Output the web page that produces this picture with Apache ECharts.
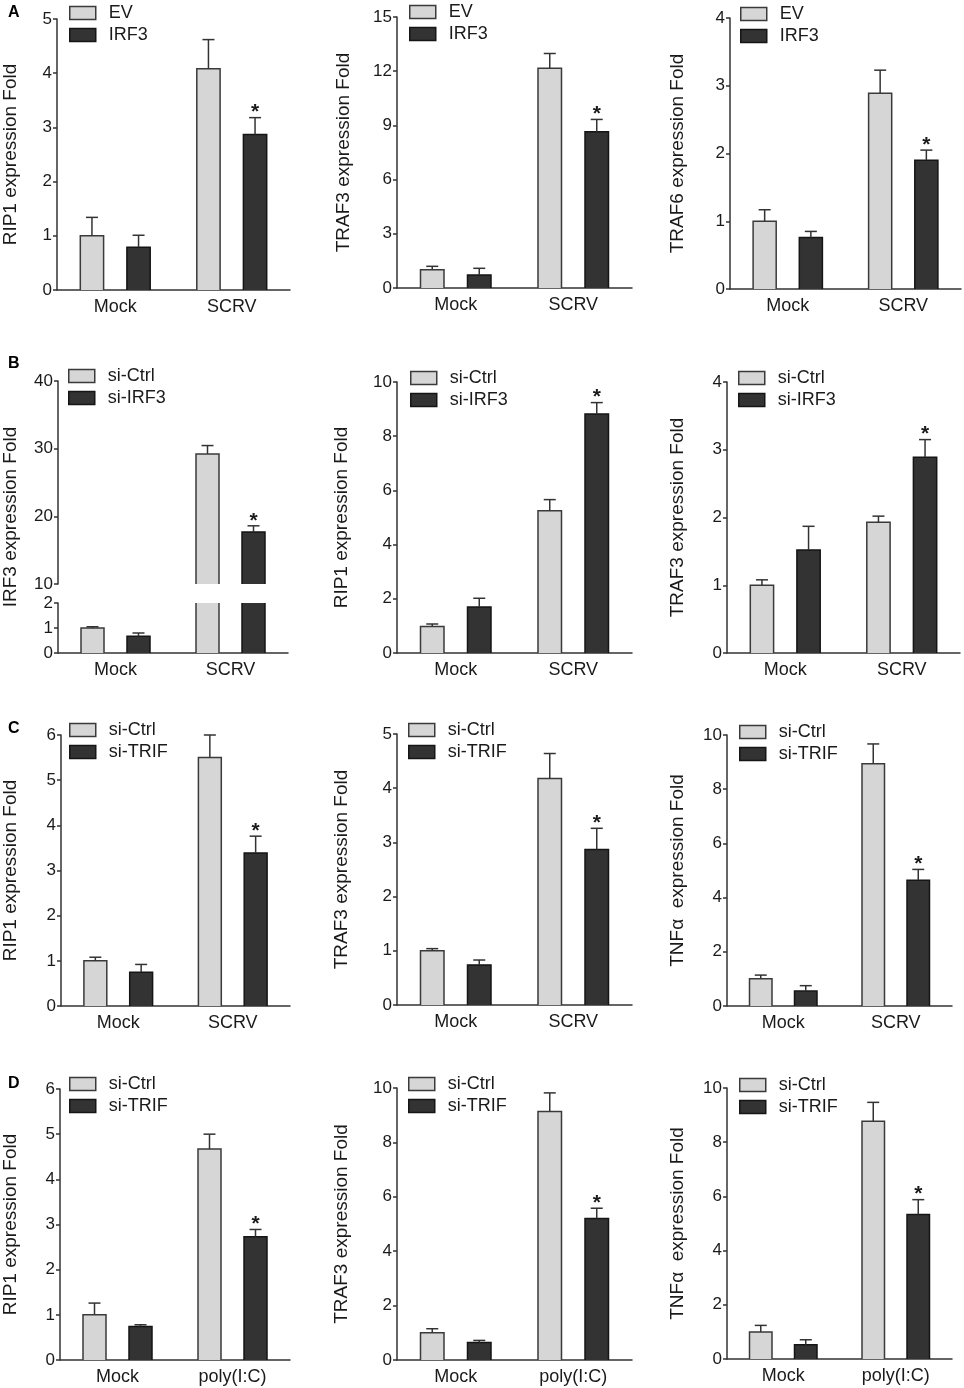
<!DOCTYPE html>
<html>
<head>
<meta charset="utf-8"/>
<script src="https://cdn.jsdelivr.net/npm/echarts@6/dist/echarts.min.js"></script>
<style>
  html, body { margin: 0; padding: 0; background: #fff; }
  #fig { width: 964px; height: 1388px; }
</style>
</head>
<body>
<div id="fig"></div>
<script type="text/javascript">
// categories
var CATS_SCRV = ['Mock', 'SCRV'];
var CATS_PIC = ['Mock', 'poly(I:C)'];

// means / error (upper SEM) : rows = [control, treatment], cols = [Mock, infected]
var A1_MEAN = [[1.00, 4.08], [0.79, 2.87]];
var A1_ERR  = [[0.34, 0.54], [0.22, 0.31]];
var A2_MEAN = [[1.01, 12.17], [0.72, 8.65]];
var A2_ERR  = [[0.19, 0.81], [0.37, 0.68]];
var A3_MEAN = [[1.00, 2.89], [0.76, 1.90]];
var A3_ERR  = [[0.17, 0.34], [0.09, 0.15]];

var B1_MEAN = [[1.00, 29.23], [0.67, 17.67]];
var B1_ERR  = [[0.05, 1.23], [0.13, 0.93]];
var B2_MEAN = [[0.98, 5.25], [1.70, 8.82]];
var B2_ERR  = [[0.09, 0.41], [0.32, 0.42]];
var B3_MEAN = [[1.00, 1.93], [1.52, 2.89]];
var B3_ERR  = [[0.08, 0.09], [0.35, 0.26]];

var C1_MEAN = [[1.00, 5.50], [0.75, 3.39]];
var C1_ERR  = [[0.08, 0.50], [0.17, 0.37]];
var C2_MEAN = [[1.00, 4.18], [0.74, 2.87]];
var C2_ERR  = [[0.04, 0.46], [0.09, 0.39]];
var C3_MEAN = [[1.01, 8.94], [0.55, 4.64]];
var C3_ERR  = [[0.13, 0.73], [0.20, 0.40]];

var D1_MEAN = [[1.00, 4.67], [0.74, 2.73]];
var D1_ERR  = [[0.26, 0.33], [0.04, 0.16]];
var D2_MEAN = [[1.00, 9.14], [0.64, 5.20]];
var D2_ERR  = [[0.15, 0.68], [0.08, 0.38]];
var D3_MEAN = [[1.00, 8.77], [0.53, 5.33]];
var D3_ERR  = [[0.24, 0.70], [0.18, 0.55]];

// significance marks (same layout in every panel)
var SIG = [[false, false], [false, true]];

var FONT = "'Liberation Sans', Arial, Helvetica, sans-serif";
var LIGHT = '#d6d6d6';
var DARK = '#333333';
var INK = '#1a1a1a';
var AXIS = '#333333';

var panels = [
    {cats: CATS_SCRV, names: ['EV', 'IRF3'], mean: A1_MEAN, err: A1_ERR, ymax: 5, step: 1,
     title: 'RIP1 expression Fold', box: [55, 19, 235, 271], gap: 37, leg: [69, 4]},
    {cats: CATS_SCRV, names: ['EV', 'IRF3'], mean: A2_MEAN, err: A2_ERR, ymax: 15, step: 3,
     title: 'TRAF3 expression Fold', box: [397, 17, 235, 271], gap: 44, leg: [409, 3]},
    {cats: CATS_SCRV, names: ['EV', 'IRF3'], mean: A3_MEAN, err: A3_ERR, ymax: 4, step: 1,
     title: 'TRAF6 expression Fold', box: [730, 18, 231, 271], gap: 43, leg: [740, 5]},

    {cats: CATS_SCRV, names: ['si-Ctrl', 'si-IRF3'], mean: B1_MEAN, err: B1_ERR, broken: true,
     title: 'IRF3 expression Fold', box: [58, 381, 230, 272], gap: 40, leg: [68, 367]},
    {cats: CATS_SCRV, names: ['si-Ctrl', 'si-IRF3'], mean: B2_MEAN, err: B2_ERR, ymax: 10, step: 2,
     title: 'RIP1 expression Fold', box: [397, 382, 235, 271], gap: 46, leg: [410, 369]},
    {cats: CATS_SCRV, names: ['si-Ctrl', 'si-IRF3'], mean: B3_MEAN, err: B3_ERR, ymax: 4, step: 1,
     title: 'TRAF3 expression Fold', box: [727, 382, 233, 271], gap: 40, leg: [738, 369]},

    {cats: CATS_SCRV, names: ['si-Ctrl', 'si-TRIF'], mean: C1_MEAN, err: C1_ERR, ymax: 6, step: 1,
     title: 'RIP1 expression Fold', box: [59, 735, 231, 271], gap: 41, leg: [69, 721]},
    {cats: CATS_SCRV, names: ['si-Ctrl', 'si-TRIF'], mean: C2_MEAN, err: C2_ERR, ymax: 5, step: 1,
     title: 'TRAF3 expression Fold', box: [397, 734, 235, 271], gap: 46, leg: [408, 721]},
    {cats: CATS_SCRV, names: ['si-Ctrl', 'si-TRIF'], mean: C3_MEAN, err: C3_ERR, ymax: 10, step: 2,
     title: 'TNF\u03b1  expression Fold', box: [727, 735, 225, 271], gap: 40, leg: [739, 723]},

    {cats: CATS_PIC, names: ['si-Ctrl', 'si-TRIF'], mean: D1_MEAN, err: D1_ERR, ymax: 6, step: 1,
     title: 'RIP1 expression Fold', box: [58, 1089, 232, 271], gap: 40, leg: [69, 1075]},
    {cats: CATS_PIC, names: ['si-Ctrl', 'si-TRIF'], mean: D2_MEAN, err: D2_ERR, ymax: 10, step: 2,
     title: 'TRAF3 expression Fold', box: [397, 1088, 235, 272], gap: 46, leg: [408, 1075]},
    {cats: CATS_PIC, names: ['si-Ctrl', 'si-TRIF'], mean: D3_MEAN, err: D3_ERR, ymax: 10, step: 2,
     title: 'TNF\u03b1  expression Fold', box: [727, 1088, 225, 271], gap: 40, leg: [739, 1076]}
];

var letters = [['A', 8, 5], ['B', 8, 356], ['C', 8, 721], ['D', 8, 1076]];

var option = {
    animation: false,
    backgroundColor: '#fff',
    textStyle: {fontFamily: FONT},
    grid: [], xAxis: [], yAxis: [], series: [], legend: [], graphic: []
};

var lineStyle = {color: AXIS, width: 1.5};

// bars + error bars + star, drawn on the axis scales
function barSeries(p, gi, s, ymin, ymax) {
    return {
        type: 'custom',
        name: p.names[s],
        xAxisIndex: gi,
        yAxisIndex: gi,
        clip: false,
        encode: {x: 0, y: 1},
        data: p.cats.map(function (c, i) { return [i, p.mean[s][i], p.err[s][i], SIG[s][i] ? 1 : 0]; }),
        renderItem: function (params, api) {
            var ci = api.value(0), v = api.value(1), e = api.value(2), star = api.value(3);
            if (v <= ymin) return {type: 'group', children: []};
            var band = api.size([1, 0])[0];
            var w = band * 0.2;
            var cx = api.coord([ci, 0])[0] + (s === 0 ? -w : w);
            var l = cx - w / 2, r = cx + w / 2;
            var base = api.coord([ci, Math.max(ymin, 0)])[1];
            var clipped = v > ymax;
            var yTop = api.coord([ci, Math.min(v, ymax)])[1];
            var fill = s === 0 ? LIGHT : DARK;
            var edge = s === 0 ? '#3a3a3a' : '#151515';
            var kids = [{
                type: 'rect',
                shape: {x: l, y: yTop, width: w, height: base - yTop},
                style: {fill: fill}
            }];
            if (clipped) {
                kids.push({type: 'line', shape: {x1: l, y1: yTop, x2: l, y2: base}, style: {stroke: edge, lineWidth: 1.5}});
                kids.push({type: 'line', shape: {x1: r, y1: yTop, x2: r, y2: base}, style: {stroke: edge, lineWidth: 1.5}});
            } else {
                kids.push({type: 'polyline', shape: {points: [[l, base], [l, yTop], [r, yTop], [r, base]]},
                    style: {stroke: edge, lineWidth: 1.5, fill: null}});
                var yE = api.coord([ci, v + e])[1];
                kids.push({type: 'line', shape: {x1: cx, y1: yTop, x2: cx, y2: yE}, style: {stroke: AXIS, lineWidth: 1.5}});
                kids.push({type: 'line', shape: {x1: cx - 6, y1: yE, x2: cx + 6, y2: yE}, style: {stroke: AXIS, lineWidth: 1.5}});
                if (star) {
                    kids.push({type: 'text', x: cx, y: yE - 5,
                        style: {text: '*', fill: INK, font: 'bold 21px ' + FONT, align: 'center', verticalAlign: 'middle'}});
                }
            }
            return {type: 'group', children: kids};
        }
    };
}

function addAxes(b, cats, xShow, yOpt) {
    var gi = option.grid.length;
    option.grid.push({left: b[0], top: b[1], width: b[2], height: b[3]});
    option.xAxis.push({
        gridIndex: gi, type: 'category', data: cats, show: xShow,
        axisLine: {lineStyle: lineStyle},
        axisTick: {alignWithLabel: true, length: 5, lineStyle: lineStyle},
        axisLabel: {fontSize: 18, color: INK, margin: 8}
    });
    var y = {
        gridIndex: gi, type: 'value',
        axisLine: {show: true, lineStyle: lineStyle},
        axisTick: {show: true, length: 4, lineStyle: lineStyle},
        axisLabel: {fontSize: 17, color: INK, margin: 5},
        splitLine: {show: false}
    };
    for (var k in yOpt) y[k] = yOpt[k];
    option.yAxis.push(y);
    return gi;
}

panels.forEach(function (p) {
    var b = p.box;
    if (!p.broken) {
        var gi = addAxes(b, p.cats, true, {
            min: 0, max: p.ymax, interval: p.step,
            name: p.title, nameLocation: 'middle', nameGap: p.gap,
            nameTextStyle: {fontSize: 19, color: INK}
        });
        option.series.push(barSeries(p, gi, 0, 0, p.ymax));
        option.series.push(barSeries(p, gi, 1, 0, p.ymax));
    } else {
        // broken axis: upper 10-40, lower 0-2
        var gUp = addAxes([b[0], b[1], b[2], 203], p.cats, false, {min: 10, max: 40, interval: 10});
        var gLo = addAxes([b[0], b[1] + 222, b[2], 50], p.cats, true, {min: 0, max: 2, interval: 1});
        addAxes(b, p.cats, false, {
            min: 0, max: 1, name: p.title, nameLocation: 'middle', nameGap: p.gap,
            nameTextStyle: {fontSize: 19, color: INK},
            axisLine: {show: false}, axisTick: {show: false}, axisLabel: {show: false}
        });
        option.series.push(barSeries(p, gUp, 0, 10, 40));
        option.series.push(barSeries(p, gUp, 1, 10, 40));
        option.series.push(barSeries(p, gLo, 0, 0, 2));
        option.series.push(barSeries(p, gLo, 1, 0, 2));
    }
    option.legend.push({
        left: p.leg[0], top: p.leg[1], orient: 'vertical', padding: 0,
        itemWidth: 26, itemHeight: 13, itemGap: 4, icon: 'rect', selectedMode: false,
        textStyle: {fontSize: 18, color: INK, padding: [0, 0, 0, 8]},
        data: [
            {name: p.names[0], itemStyle: {color: LIGHT, borderColor: '#3a3a3a', borderWidth: 1.5}},
            {name: p.names[1], itemStyle: {color: DARK, borderColor: '#151515', borderWidth: 1.5}}
        ]
    });
});

letters.forEach(function (t) {
    option.graphic.push({type: 'text', left: t[1], top: t[2],
        style: {text: t[0], font: 'bold 16px ' + FONT, fill: '#000'}});
});

var chart = echarts.init(document.getElementById('fig'));
chart.setOption(option);
</script>
</body>
</html>
